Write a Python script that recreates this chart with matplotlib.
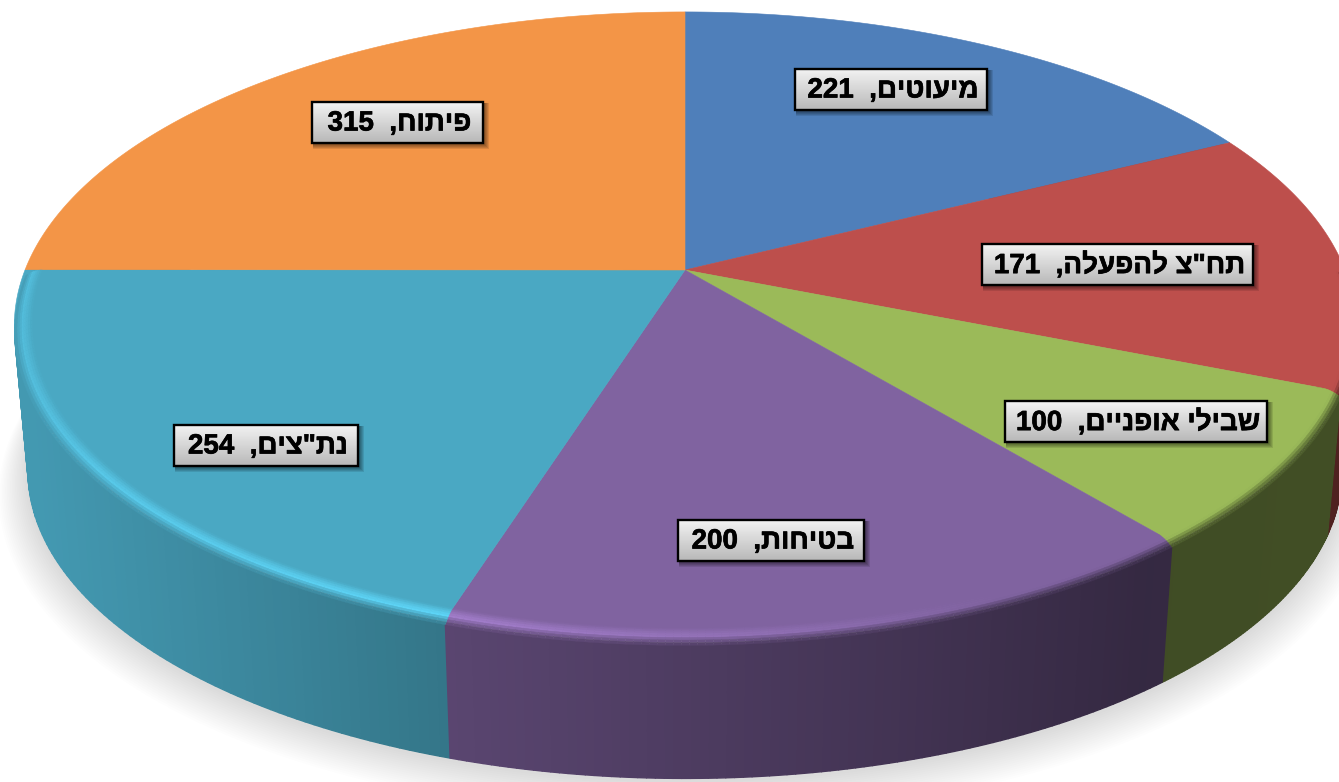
import numpy as np
import matplotlib
matplotlib.use('Agg')
import matplotlib.pyplot as plt
import matplotlib.patheffects as pe
from matplotlib.collections import PolyCollection
from matplotlib.patches import Polygon, Rectangle

categories = ['מיעוטים', 'תח"צ להפעלה', 'שבילי אופניים', 'בטיחות', 'נת"צים', 'פיתוח']
values = [221, 171, 100, 200, 254, 315]
colors = ['#4f7fba', '#bd4f4c', '#9bba59', '#8063a0', '#4aa8c3', '#f39547']
# label boxes: left, right, top, bottom in pixels
boxes = [(795, 987, 69, 110), (982, 1253, 244, 285), (1005, 1267, 401, 442),
         (678, 864, 520, 561), (174, 358, 425, 466), (312, 483, 102, 143)]

W, H = 1339, 782
CX, CY = 685, 270
A, B, K = 660, 304, 0.178   # perspective of the top face
DEPTH_S, DEPTH_Y = 0.0205, 7400


def project(theta, r=1.0, z=0.0):
	# theta clockwise from the top, z=0 top face, z=1 bottom ring
	u = r*np.sin(theta)
	v = r*np.cos(theta)
	w = 1 + K*v
	x = CX + A*u/w
	y = CY - B*v/w
	s = 1 - DEPTH_S*z
	return CX + (x-CX)*s, DEPTH_Y - (DEPTH_Y-y)*s


def side_shade(x):
	return np.interp(x, [30, 450, 900, 1150, 1340], [0.91, 0.70, 0.52, 0.41, 0.42])


def rim_light(x):
	return np.interp(x, [15, 100, 450, 800, 1000, 1340], [1.12, 1.2, 1.28, 1.12, 1.0, 1.0])


def shaded(rgb, f):
	return tuple(np.clip(np.array(rgb)*f, 0, 1))


fig = plt.figure(figsize=(W/100, H/100), dpi=100)
ax = fig.add_axes([0, 0, 1, 1])
ax.set_xlim(0, W)
ax.set_ylim(H, 0)
ax.axis('off')

edges = np.cumsum([0] + values)/np.sum(values)*2*np.pi
all_theta = np.linspace(0, 2*np.pi, 361)

# soft shadow under the pie
for k in range(1, 19):
	x, y = project(all_theta, 1 + k*0.0024, 1.0)
	y = y + 2 + k*1.0
	ax.add_patch(Polygon(np.c_[x, y], closed=True, fc='k', ec='none', alpha=0.0085, zorder=1))

# sides, back slices first
order = np.argsort([np.cos((edges[i]+edges[i+1])/2) for i in range(len(values))])[::-1]
for i in order:
	rgb = matplotlib.colors.to_rgb(colors[i])
	th = np.linspace(edges[i], edges[i+1], 90)
	polys, cols = [], []
	for a, b in zip(th[:-1], th[1:]):
		x0, y0 = project(a, 1, 0.04)
		x1, y1 = project(b, 1, 0.04)
		x2, y2 = project(b, 1, 1)
		x3, y3 = project(a, 1, 1)
		polys.append([(x0, y0), (x1, y1), (x2, y2), (x3, y3)])
		cols.append(shaded(rgb, side_shade((x0+x1)/2)))
	ax.add_collection(PolyCollection(polys, facecolors=cols, edgecolors=cols, linewidths=1.0, zorder=2))

# top face
for i in range(len(values)):
	th = np.linspace(edges[i], edges[i+1], 120)
	x, y = project(th)
	ax.add_patch(Polygon(np.r_[[(CX, CY)], np.c_[x, y]], closed=True, fc=colors[i], ec=colors[i], lw=0.4, zorder=3))

# bevel on the front half of the rim
ts = np.linspace(0, 1, 9)
for i in range(len(values)):
	rgb = matplotlib.colors.to_rgb(colors[i])
	lo, hi = max(edges[i], np.pi/2), min(edges[i+1], 3*np.pi/2)
	if hi <= lo:
		continue
	th = np.linspace(lo, hi, 100)
	polys, cols = [], []
	for t0, t1 in zip(ts[:-1], ts[1:]):
		r0, r1 = 1 - 0.026*(1-t0), 1 - 0.026*(1-t1)
		z0, z1 = 0.04*t0**2, 0.04*t1**2
		tm = (t0+t1)/2
		for a, b in zip(th[:-1], th[1:]):
			x0, y0 = project(a, r0, z0)
			x1, y1 = project(b, r0, z0)
			x2, y2 = project(b, r1, z1)
			x3, y3 = project(a, r1, z1)
			xm = (x0+x1)/2
			if tm < 0.55:
				f = np.interp(tm, [0, 0.55], [1.0, rim_light(xm)])
			else:
				f = np.interp(tm, [0.55, 1], [rim_light(xm), side_shade(xm)])
			polys.append([(x0, y0), (x1, y1), (x2, y2), (x3, y3)])
			cols.append(shaded(rgb, f))
	ax.add_collection(PolyCollection(polys, facecolors=cols, edgecolors=cols, linewidths=0.3, zorder=4))

# labels with grey gradient boxes
grad = np.linspace(0.95, 0.72, 64).reshape(-1, 1)
for name, val, (x0, x1, y0, y1) in zip(categories, values, boxes):
	for k in range(1, 6):
		ax.add_patch(Rectangle((x0+1, y0+1), x1-x0+k, y1-y0+k, fc='k', ec='none', alpha=0.10, zorder=5))
	ax.imshow(grad, extent=(x0, x1, y1, y0), cmap='gray', vmin=0, vmax=1, aspect='auto', zorder=6)
	ax.add_patch(Rectangle((x0, y0), x1-x0, y1-y0, fc='none', ec='k', lw=1.7, zorder=7))
	# matplotlib lays out left to right, so the Hebrew goes in reversed
	label = str(val) + '  ,' + name[::-1]
	ax.text((x0+x1)/2 + 2, (y0+y1)/2 + 1, label, ha='center', va='center', color='k',
		family=['Liberation Sans', 'DejaVu Sans'], weight='bold', size=20, zorder=8,
		path_effects=[pe.withStroke(linewidth=0.5, foreground='k')])

ax.set_xlim(0, W)
ax.set_ylim(H, 0)
fig.savefig('out.png', dpi=100)
